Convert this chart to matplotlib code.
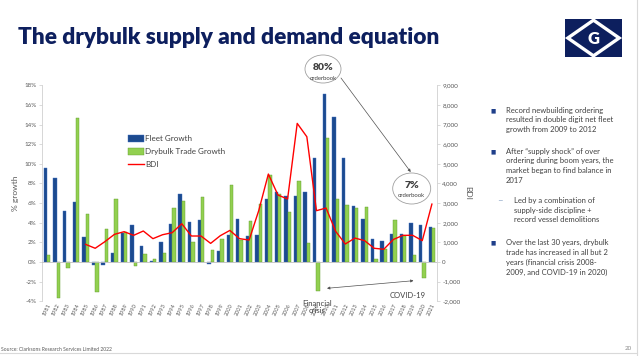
import numpy as np
import matplotlib
matplotlib.use('Agg')
import matplotlib.pyplot as plt
from matplotlib.patches import Rectangle, Polygon, Ellipse, Patch, FancyArrowPatch
from matplotlib.lines import Line2D
from matplotlib.ticker import FuncFormatter

plt.rcParams['font.family'] = ['Lato', 'DejaVu Sans']

years = [str(y) for y in range(1981, 2022)]
fleet_growth = [9.6, 8.6, 5.2, 6.1, 2.6, -0.3, -0.3, 0.9, 3.0, 3.8,
                1.6, 0.1, 2.0, 3.9, 6.9, 4.1, 4.3, -0.2, 1.1, 2.8,
                4.4, 2.7, 2.8, 6.4, 7.1, 6.7, 6.7, 7.1, 10.6, 17.1,
                14.8, 10.6, 5.7, 4.35, 2.3, 2.15, 2.9, 2.9, 3.95, 3.75, 3.6]
trade_growth = [0.7, -3.7, -0.6, 14.7, 4.85, -3.1, 3.35, 6.4, 3.1, -0.4,
                0.8, 0.3, 0.9, 5.5, 6.25, 2.05, 6.6, 1.2, 2.35, 7.85,
                2.2, 4.2, 5.9, 8.9, 6.9, 5.1, 8.3, 1.9, -3.0, 12.6,
                6.4, 5.85, 5.55, 5.6, 0.35, 1.3, 4.25, 2.7, 0.7, -1.65, 3.45]
bdi_years = [str(y) for y in range(1985, 2022)]
bdi = [900, 700, 1035, 1410, 1545, 1360, 1580, 1190, 1390, 1495,
       1950, 1325, 1325, 950, 1340, 1610, 1190, 1120, 2620, 4480,
       3410, 3210, 7060, 6380, 2615, 2750, 1560, 920, 1220, 1090,
       700, 650, 1150, 1360, 1360, 1090, 2950]

navy = '#0d1f5e'
grey = '#595959'
txtc = '#404040'

fig = plt.figure(figsize=(6.4, 3.56), dpi=100)
ax = fig.add_axes([42.3/640, 1-301.3/356, 394.4/640, 216/356])

x = np.arange(len(years))
ax.bar(x-0.175, fleet_growth, width=0.35, color='#1c4a8f', edgecolor='#3b6cc0', linewidth=0.3, zorder=2)
ax.bar(x+0.175, trade_growth, width=0.35, color='#92d050', edgecolor='#5f9a2a', linewidth=0.3, zorder=2)
ax.set_xlim(-0.5, len(years)-0.5)
ax.set_ylim(-4, 18)
ax.set_yticks(np.arange(-4, 19, 2))
ax.yaxis.set_major_formatter(FuncFormatter(lambda v, p: '%d%%' % v))
ax.set_xticks(x)
ax.set_xticklabels(years, rotation=65, ha='right', rotation_mode='anchor', fontsize=4, color=grey)
ax.tick_params(axis='x', length=0, pad=1)
ax.tick_params(axis='y', labelsize=4.5, colors=grey, length=2, width=0.4, color='#bfbfbf', pad=2)
ax.axhline(0, color='#bfbfbf', linewidth=0.6, zorder=3)
for s in ['top', 'right', 'bottom']:
    ax.spines[s].set_visible(False)
ax.spines['left'].set_color('#d0d0d0')
ax.spines['left'].set_linewidth(0.6)
ax.set_ylabel('% growth', fontsize=6, color=grey, labelpad=4)
ax.patch.set_alpha(0)

ax2 = ax.twinx()
bx = [years.index(y) for y in bdi_years]
ax2.plot(bx, bdi, color='#ff0000', linewidth=1.0, zorder=4)
ax2.set_ylim(-2000, 9000)
ax2.set_yticks(np.arange(-2000, 9001, 1000))
ax2.yaxis.set_major_formatter(FuncFormatter(lambda v, p: '{:,.0f}'.format(v)))
ax2.tick_params(axis='y', labelsize=4.5, colors=grey, length=2, width=0.4, color='#bfbfbf', pad=2)
for s in ['top', 'left', 'bottom']:
    ax2.spines[s].set_visible(False)
ax2.spines['right'].set_color('#d0d0d0')
ax2.spines['right'].set_linewidth(0.6)
ax2.set_ylabel('BDI', fontsize=6, color=grey, rotation=270, labelpad=8)

handles = [Patch(facecolor='#1c4a8f', edgecolor='#3b6cc0', linewidth=0.3),
           Patch(facecolor='#92d050', edgecolor='#5f9a2a', linewidth=0.3),
           Line2D([0], [0], color='#ff0000', linewidth=1.0)]
fig.legend(handles, ['Fleet Growth', 'Drybulk Trade Growth', 'BDI'],
           loc='upper left', bbox_to_anchor=(121/640, 1-128/356), frameon=False,
           fontsize=5.8, labelcolor=txtc, handlelength=1.9, handleheight=0.8,
           handletextpad=0.15, labelspacing=0.75)

# orderbook bubbles and arrows
fig.add_artist(Ellipse((323/640, 1-69/356), 36/640, 28/356, transform=fig.transFigure,
                       facecolor='white', edgecolor='#a0a0a0', linewidth=0.6, zorder=5))
fig.text(323/640, 1-67/356, '80%', fontsize=7.5, weight='heavy', color=txtc, ha='center', va='center', zorder=6)
fig.text(323/640, 1-78/356, 'orderbook', fontsize=4.3, color=txtc, ha='center', va='center', zorder=6)
fig.add_artist(Ellipse((411.7/640, 1-188.5/356), 38/640, 31/356, transform=fig.transFigure,
                       facecolor='white', edgecolor='#a0a0a0', linewidth=0.6, zorder=5))
fig.text(411.7/640, 1-185/356, '7%', fontsize=7.5, weight='heavy', color=txtc, ha='center', va='center', zorder=6)
fig.text(411.7/640, 1-195.5/356, 'orderbook', fontsize=4.3, color=txtc, ha='center', va='center', zorder=6)
fig.add_artist(FancyArrowPatch((341/640, 1-78/356), (410.7/640, 1-172/356),
               transform=fig.transFigure, arrowstyle='-|>', mutation_scale=4,
               shrinkA=0, shrinkB=0, color='#505050', linewidth=0.5, zorder=6))
fig.add_artist(FancyArrowPatch((327/640, 1-288.3/356), (413.5/640, 1-280.7/356),
               transform=fig.transFigure, arrowstyle='<|-|>', mutation_scale=4,
               shrinkA=0, shrinkB=0, color='#505050', linewidth=0.5, zorder=6))
fig.text(316.7/640, 1-307/356, 'Financial\ncrisis', fontsize=5.5, color=txtc,
         ha='center', va='center', linespacing=1.1, zorder=6)
fig.text(408/640, 1-296/356, 'COVID-19', fontsize=5.5, color=txtc, ha='center', va='center', zorder=6)

# title
fig.text(18/640, 1-44.3/356, 'The drybulk supply and demand equation', fontsize=16.3,
         weight='heavy', color=navy, ha='left', va='baseline')

# right-hand bullets
bullets = [
    (110.7, 'Record newbuilding ordering\nresulted in double digit net fleet\ngrowth from 2009 to 2012', 0),
    (151.7, 'After \u201csupply shock\u201d of over\nordering during boom years, the\nmarket began to find balance in\n2017', 0),
    (201.0, 'Led by a combination of\nsupply-side discipline +\nrecord vessel demolitions', 1),
    (243.3, 'Over the last 30 years, drybulk\ntrade has increased in all but 2\nyears (financial crisis 2008-\n2009, and COVID-19 in 2020)', 0),
]
for yb, txt, lvl in bullets:
    if lvl == 0:
        fig.text(493/640, 1-yb/356, '\u25a0', fontsize=4, color='#1f3f8a', ha='center', va='center')
        fig.text(505.7/640, 1-(yb-4)/356, txt, fontsize=5.5, color=txtc, ha='left', va='top',
                 linespacing=1.45)
    else:
        fig.text(500/640, 1-yb/356, '\u2013', fontsize=7, color='#9db3cf', ha='center', va='center')
        fig.text(514/640, 1-(yb-4)/356, txt, fontsize=5.5, color=txtc, ha='left', va='top',
                 linespacing=1.45)

# logo
lg = fig.add_axes([565/640, 1-57/356, 57/640, 38/356])
lg.set_xlim(0, 1)
lg.set_ylim(0, 1)
lg.axis('off')
lg.add_patch(Rectangle((0, 0), 1, 1, facecolor=navy, edgecolor='none'))
lg.add_patch(Polygon([(0.05, 0.5), (0.5, 0.97), (0.95, 0.5), (0.5, 0.03)], closed=True,
                     facecolor=navy, edgecolor='white', linewidth=2.4))
lg.text(0.5, 0.47, 'G', fontsize=12, weight='heavy', color='white', ha='center', va='center')

# page furniture
fig.add_artist(Line2D([636.5/640, 636.5/640], [0, 1], color='#d9d9d9', linewidth=0.8))
fig.add_artist(Line2D([0, 636.5/640], [1-352.5/356, 1-352.5/356], color='#d9d9d9', linewidth=0.8))
fig.text(1/640, 1-352/356, 'Source: Clarksons Research Services Limited 2022', fontsize=3.6,
         color=grey, ha='left', va='bottom')
fig.text(632/640, 1-351/356, '20', fontsize=4.5, color='#8c8c8c', ha='right', va='bottom')

fig.savefig('out.png', dpi=100)
